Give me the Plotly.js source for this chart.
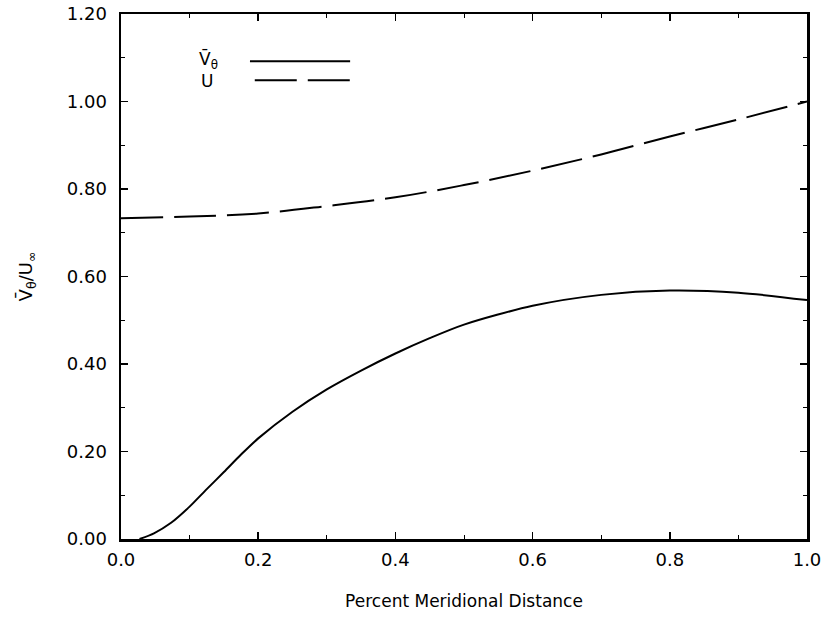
<!DOCTYPE html>
<html>
<head>
<meta charset="utf-8">
<script src="https://cdn.plot.ly/plotly-3.0.1.min.js"></script>
<style>html,body{margin:0;padding:0;background:#fff;}#chart{width:827px;height:620px;}</style>
</head>
<body>
<div id="chart"></div>
<script>
// Percent meridional distance
const distance = [0.027, 0.048, 0.073, 0.1, 0.125, 0.15, 0.175, 0.2, 0.25, 0.3, 0.35, 0.4, 0.45, 0.5, 0.6, 0.7, 0.8, 0.9, 1.0];
// V-theta / U-infinity (solid)
const vTheta = [0.0, 0.013, 0.037, 0.074, 0.114, 0.153, 0.193, 0.230, 0.291, 0.342, 0.385, 0.424, 0.459, 0.490, 0.533, 0.558, 0.568, 0.563, 0.546];
// U (dashed)
const uDist = [0.0, 0.1, 0.2, 0.3, 0.4, 0.5, 0.6, 0.7, 0.8, 0.9, 1.0];
const uVal = [0.733, 0.737, 0.744, 0.761, 0.781, 0.809, 0.842, 0.879, 0.920, 0.959, 1.000];

const xTicks = [0.0, 0.2, 0.4, 0.6, 0.8, 1.0];
const xTickText = ["0.0", "0.2", "0.4", "0.6", "0.8", "1.0"];
const yTicks = [0.0, 0.2, 0.4, 0.6, 0.8, 1.0, 1.2];
const yTickText = ["0.00", "0.20", "0.40", "0.60", "0.80", "1.00", "1.20"];

const FONT = "DejaVu Sans, sans-serif";

const traces = [
  {x: distance, y: vTheta, mode: "lines", line: {color: "#000", width: 2, shape: "spline", smoothing: 0.8}, showlegend: false, hoverinfo: "skip"},
  {x: uDist, y: uVal, mode: "lines", line: {color: "#000", width: 2, dash: "42px,11px", shape: "spline", smoothing: 1}, showlegend: false, hoverinfo: "skip"}
];

const axisCommon = {
  showline: true, linecolor: "#000", linewidth: 2.5, mirror: "ticks",
  ticks: "inside", ticklen: 7, tickwidth: 1.5, tickcolor: "#000",
  showgrid: false, zeroline: false,
  tickfont: {family: FONT, size: 18, color: "#000"},
  minor: {ticks: "inside", ticklen: 4, tickwidth: 1, tickcolor: "#000", dtick: 0.1, showgrid: false}
};

const layout = {
  width: 827, height: 620,
  margin: {l: 121, r: 20, t: 14, b: 81},
  paper_bgcolor: "#fff", plot_bgcolor: "#fff",
  font: {family: FONT, color: "#000"},
  xaxis: Object.assign({}, axisCommon, {
    range: [0, 1], tickvals: xTicks, ticktext: xTickText, ticklabelstandoff: 3,
    title: {text: "Percent Meridional Distance", font: {family: FONT, size: 17, color: "#000"}, standoff: 26}
  }),
  yaxis: Object.assign({}, axisCommon, {
    range: [0, 1.2], tickvals: yTicks, ticktext: yTickText, ticklabelstandoff: 8,
    title: {text: "V\u0304<sub>θ</sub>/U<sub>∞</sub>", font: {family: FONT, size: 18, color: "#000"}, standoff: 30}
  }),
  showlegend: false,
  annotations: [
    {xref: "paper", yref: "paper", x: 0.127, y: 0.912, text: "V\u0304<sub>θ</sub>", showarrow: false, font: {family: FONT, size: 17, color: "#000"}, xanchor: "center", yanchor: "middle"},
    {xref: "paper", yref: "paper", x: 0.125, y: 0.872, text: "U", showarrow: false, font: {family: FONT, size: 17, color: "#000"}, xanchor: "center", yanchor: "middle"}
  ],
  shapes: [
    {type: "line", xref: "paper", yref: "paper", x0: 0.188, x1: 0.334, y0: 0.910, y1: 0.910, line: {color: "#000", width: 2}},
    {type: "line", xref: "paper", yref: "paper", x0: 0.195, x1: 0.334, y0: 0.874, y1: 0.874, line: {color: "#000", width: 2, dash: "42px,11px"}}
  ]
};

Plotly.newPlot("chart", traces, layout, {staticPlot: true, displayModeBar: false});
</script>
</body>
</html>
